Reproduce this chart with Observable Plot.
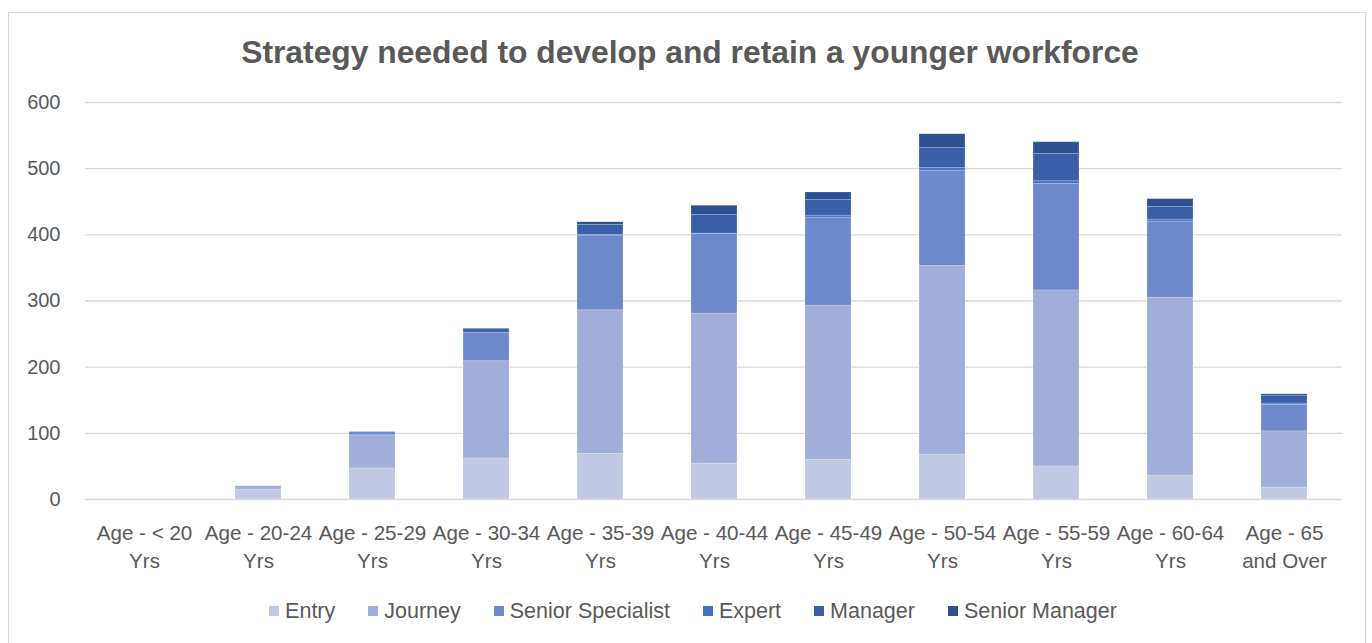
<!DOCTYPE html>
<html>
<head>
<meta charset="utf-8">
<script src="https://cdn.jsdelivr.net/npm/d3@7"></script>
<script src="https://cdn.jsdelivr.net/npm/@observablehq/plot@0.6"></script>
<style>
  html, body { margin: 0; padding: 0; background: #fff; }
  body { width: 1372px; height: 643px; position: relative; overflow: hidden; font-family: "Liberation Sans", Arial, sans-serif; }
  #frame { position: absolute; left: 8px; top: 12px; width: 1358px; height: 660px; border: 1.5px solid #d9d9d9; box-sizing: border-box; }
  #title { position: absolute; left: 0; top: 33px; width: 1380px; text-align: center; font-size: 31.8px; font-weight: bold; color: #595959; line-height: 38px; }
  #chart { position: absolute; left: 0; top: 80px; }
  #legend { position: absolute; left: 0; top: 599px; width: 1386px; display: flex; justify-content: center; gap: 33px; font-size: 21.5px; color: #595959; line-height: 24px; }
  #legend .item { display: flex; align-items: center; gap: 6px; }
  #legend .sw { width: 10px; height: 10px; display: inline-block; }
</style>
</head>
<body>
<div id="frame"></div>
<div id="title">Strategy needed to develop and retain a younger workforce</div>
<div id="chart"></div>
<div id="legend"></div>
<script>
const categories = ["Age - < 20 Yrs","Age - 20-24 Yrs","Age - 25-29 Yrs","Age - 30-34 Yrs","Age - 35-39 Yrs","Age - 40-44 Yrs","Age - 45-49 Yrs","Age - 50-54 Yrs","Age - 55-59 Yrs","Age - 60-64 Yrs","Age - 65 and Over"];
const tickLabels = ["Age - < 20\nYrs","Age - 20-24\nYrs","Age - 25-29\nYrs","Age - 30-34\nYrs","Age - 35-39\nYrs","Age - 40-44\nYrs","Age - 45-49\nYrs","Age - 50-54\nYrs","Age - 55-59\nYrs","Age - 60-64\nYrs","Age - 65\nand Over"];
const series = ["Entry","Journey","Senior Specialist","Expert","Manager","Senior Manager"];
const colors = ["#c1c8e4","#a0aed9","#6d89ca","#4472c4","#3a5fa8","#2e5090"];
const entry          = [0, 15, 47,  62,  69,  54,  60,  68,  50,  36, 18];
const journey        = [0,  5, 50, 147, 217, 227, 233, 285, 266, 269, 85];
const seniorSpec     = [0,  0,  5,  43, 113, 120, 133, 144, 161, 115, 40];
const expert         = [0,  0,  0,   0,   1,   1,   3,   4,   4,   3,  2];
const manager        = [0,  0,  0,   6,  15,  28,  24,  30,  41,  19, 12];
const seniorManager  = [0,  0,  0,   0,   4,  14,  11,  21,  18,  12,  2];
const yTicks = [0, 100, 200, 300, 400, 500, 600];

const seriesValues = [entry, journey, seniorSpec, expert, manager, seniorManager];
const data = [];
series.forEach((s, i) => categories.forEach((c, j) => data.push({cat: c, series: s, value: seriesValues[i][j]})));
const labelOf = new Map(categories.map((c, i) => [c, tickLabels[i]]));

const font = "'Liberation Sans', Arial, sans-serif";
const chart = Plot.plot({
  width: 1372,
  height: 500,
  marginTop: 22,
  marginBottom: 81,
  marginLeft: 85,
  marginRight: 30,
  style: {fontFamily: font, fontSize: "20px", color: "#595959", background: "transparent", overflow: "visible"},
  x: {domain: categories, paddingInner: 0.6, paddingOuter: 0.3},
  y: {domain: [0, 600]},
  color: {domain: series, range: colors},
  marks: [
    Plot.gridY(yTicks, {stroke: "#d9d9d9", strokeOpacity: 1, strokeWidth: 1.3}),
    Plot.axisY(yTicks, {tickSize: 0, tickPadding: 25, label: null, fontSize: 20, fill: "#595959"}),
    Plot.barY(data, {x: "cat", y: "value", fill: "series", z: "series", stroke: "#ffffff", strokeOpacity: 0.25, strokeWidth: 0.8}),
    Plot.axisX({tickSize: 0, tickPadding: 20, label: null, tickFormat: d => labelOf.get(d), lineHeight: 1.38, fontSize: 20.6, fill: "#595959"})
  ]
});
document.getElementById("chart").appendChild(chart);

const legend = document.getElementById("legend");
series.forEach((s, i) => {
  const item = document.createElement("div");
  item.className = "item";
  const sw = document.createElement("span");
  sw.className = "sw";
  sw.style.background = colors[i];
  const tx = document.createElement("span");
  tx.textContent = s;
  item.appendChild(sw);
  item.appendChild(tx);
  legend.appendChild(item);
});
</script>
</body>
</html>
